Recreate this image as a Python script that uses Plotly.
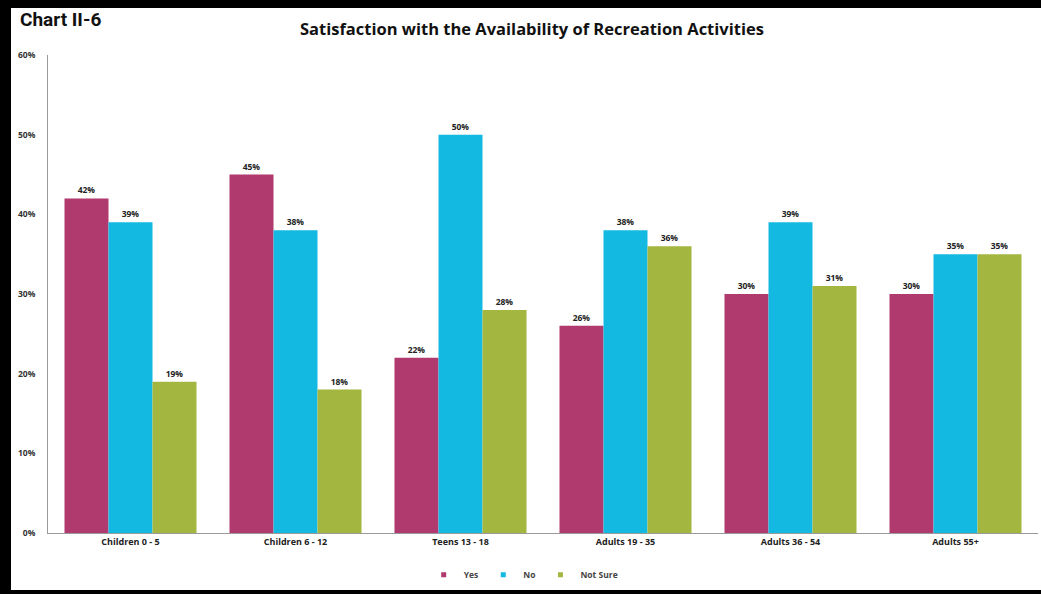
import plotly.graph_objects as go

categories = ["Children 0 - 5", "Children 6 - 12", "Teens 13 - 18", "Adults 19 - 35", "Adults 36 - 54", "Adults 55+"]
yes_vals = [42, 45, 22, 26, 30, 30]
no_vals = [39, 38, 50, 38, 39, 35]
notsure_vals = [19, 18, 28, 36, 31, 35]
y_ticks = [0, 10, 20, 30, 40, 50, 60]

series = [("Yes", yes_vals, "#B0396D"), ("No", no_vals, "#14B9E1"), ("Not Sure", notsure_vals, "#A3B63F")]

fig = go.Figure()
for name, vals, color in series:
    fig.add_trace(go.Bar(
        name=name, x=categories, y=vals, marker=dict(color=color, line=dict(width=0)),
        text=[f"{v}%" for v in vals], textposition="outside", cliponaxis=False, showlegend=False,
        textfont=dict(family="Open Sans", size=8.5, color="#222222", weight="bold"),
    ))
# small square legend keys
for name, vals, color in series:
    fig.add_trace(go.Scatter(
        name=name, x=[categories[0]], y=[None], mode="markers",
        marker=dict(symbol="square", size=5, color=color), showlegend=True, hoverinfo="skip",
    ))

W, H = 1041, 594
ml, mr, mt, mb = 48, 3, 55, 61

fig.update_layout(
    width=W, height=H,
    margin=dict(l=ml, r=mr, t=mt, b=mb, autoexpand=False),
    paper_bgcolor="white", plot_bgcolor="white",
    barmode="group", bargap=0.2, bargroupgap=0,
    font=dict(family="Open Sans", color="#222222"),
    showlegend=True,
    legend=dict(orientation="h", x=0.48, xanchor="center", y=-0.057, yanchor="top",
                bgcolor="rgba(0,0,0,0)", itemwidth=30, tracegroupgap=0,
                font=dict(family="Open Sans", size=8.5, color="#444444", weight="bold"),
                traceorder="normal"),
    xaxis=dict(showline=True, linecolor="#9a9a9a", linewidth=1, ticks="", showgrid=False,
               tickfont=dict(family="Open Sans", size=9, color="#222222", weight="bold")),
    yaxis=dict(range=[0, 60], tickvals=y_ticks, ticktext=[f"{t}%" for t in y_ticks],
               showline=True, linecolor="#9a9a9a", linewidth=1, showgrid=False, zeroline=False,
               ticks="", ticklabelstandoff=10,
               tickfont=dict(family="Open Sans", size=8.5, color="#333333", weight="bold")),
)

pw = W - ml - mr
ph = H - mt - mb
def px(x): return (x - ml) / pw
def py(y): return (H - mb - y) / ph

fig.add_annotation(text="<b>Satisfaction with the Availability of Recreation Activities</b>",
                   xref="paper", yref="paper", x=px(532), y=py(29),
                   xanchor="center", yanchor="middle", showarrow=False,
                   font=dict(family="Open Sans", size=16.5, color="#111111"))
fig.add_annotation(text="<b>Chart II-6</b>",
                   xref="paper", yref="paper", x=px(18), y=py(20),
                   xanchor="left", yanchor="middle", showarrow=False,
                   font=dict(family="Roboto", size=19, color="#111111"))

# black frame (top, left, bottom)
for x0, y0, x1, y1 in [(0, 0, W, 8), (0, 0, 11, H), (0, 590, W, H)]:
    fig.add_shape(type="rect", xref="paper", yref="paper", x0=px(x0), x1=px(x1), y0=py(y1), y1=py(y0),
                  fillcolor="black", line=dict(width=0), layer="above")

fig.write_html("out.html")
